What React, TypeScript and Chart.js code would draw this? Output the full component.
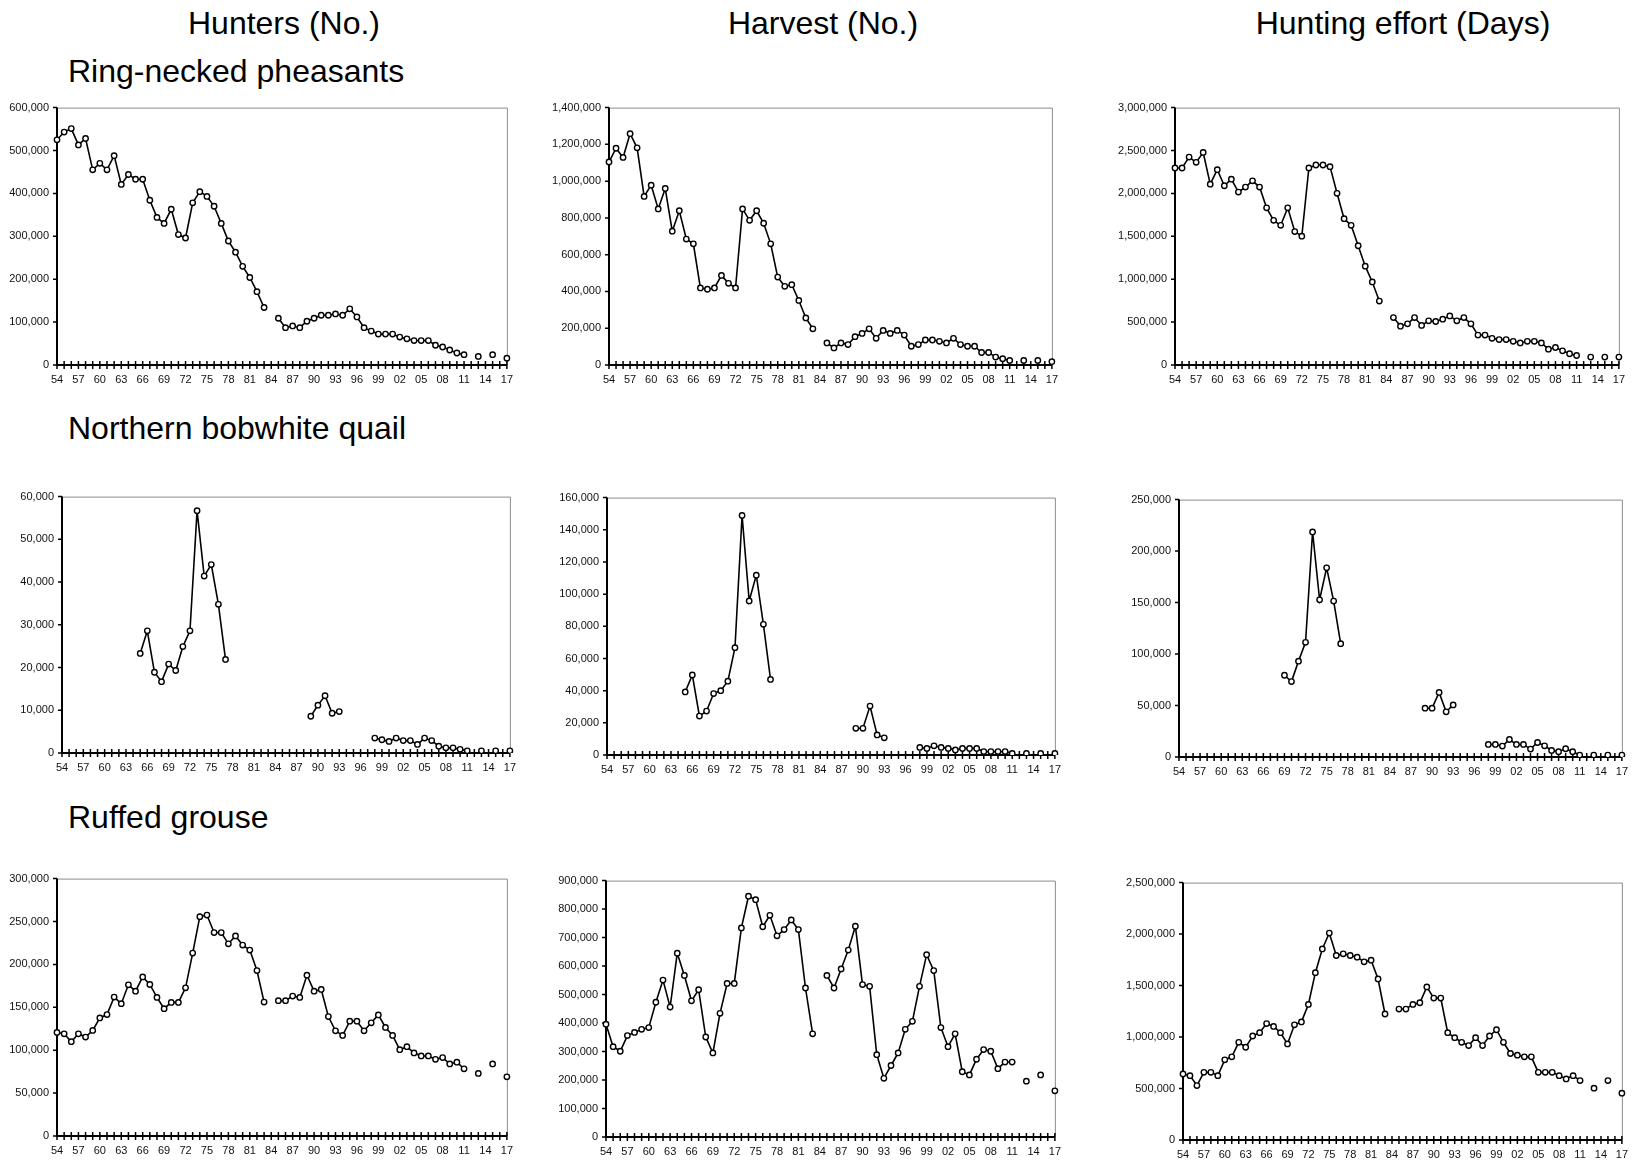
import React, { useEffect, useRef } from "react";
import { Chart, registerables } from "chart.js";

Chart.register(...registerables);

const YEAR_LABELS = [
  "54", "55", "56", "57", "58", "59", "60", "61", "62", "63",
  "64", "65", "66", "67", "68", "69", "70", "71", "72", "73",
  "74", "75", "76", "77", "78", "79", "80", "81", "82", "83",
  "84", "85", "86", "87", "88", "89", "90", "91", "92", "93",
  "94", "95", "96", "97", "98", "99", "00", "01", "02", "03",
  "04", "05", "06", "07", "08", "09", "10", "11", "12", "13",
  "14", "15", "16", "17",
];

const PHEASANT_HUNTERS = [
  525000, 543000, 551000, 513000, 528000, 455000, 470000, 455000, 488000, 421000,
  444000, 433000, 433000, 384000, 344000, 330000, 363000, 304000, 296000, 378000,
  404000, 393000, 370000, 330000, 289000, 263000, 230000, 204000, 171000, 134000,
  null,
  109000, 87000, 91000, 87000, 102000, 109000, 116000, 116000, 119000, 116000,
  131000, 112000, 87000, 79000, 72000, 72000, 72000, 65000, 61000, 57000,
  57000, 57000, 46000, 42000, 35000, 28000, 24000,
  null, 20000, null, 24000, null, 16000,
];

const PHEASANT_HARVEST = [
  1104000, 1179000, 1129000, 1258000, 1181000, 917000, 978000, 849000, 960000, 728000,
  839000, 685000, 659000, 419000, 412000, 419000, 487000, 444000, 419000, 849000,
  787000, 839000, 771000, 659000, 478000, 428000, 437000, 351000, 256000, 197000,
  null,
  120000, 93000, 120000, 111000, 154000, 172000, 197000, 145000, 188000, 172000,
  188000, 163000, 102000, 111000, 136000, 136000, 129000, 120000, 145000, 111000,
  102000, 102000, 68000, 68000, 43000, 34000, 25000,
  null, 25000, null, 25000, null, 18000,
];

const PHEASANT_EFFORT = [
  2296000, 2296000, 2423000, 2362000, 2477000, 2108000, 2277000, 2089000, 2166000, 2016000,
  2074000, 2147000, 2074000, 1832000, 1686000, 1628000, 1832000, 1555000, 1502000, 2296000,
  2331000, 2331000, 2312000, 2001000, 1705000, 1628000, 1390000, 1152000, 968000, 745000,
  null,
  553000, 453000, 480000, 553000, 461000, 515000, 507000, 534000, 572000, 515000,
  553000, 480000, 349000, 349000, 311000, 296000, 296000, 276000, 257000, 276000,
  276000, 257000, 184000, 204000, 165000, 131000, 111000,
  null, 92000, null, 92000, null, 92000,
];

const QUAIL_HUNTERS = [
  null, null, null, null, null, null, null, null, null, null, null,
  23300, 28600, 18900, 16700, 20800, 19300, 24900, 28600, 56700, 41400, 44100, 34800, 21900,
  null, null, null, null, null, null, null, null, null, null, null,
  8600, 11200, 13400, 9300, 9700,
  null, null, null, null,
  3500, 3100, 2700, 3500, 2900, 2900, 2000,
  3500, 2900, 1600, 1200, 1200, 850, 500,
  null, 500, null, 500, null, 500,
];

const QUAIL_HARVEST = [
  null, null, null, null, null, null, null, null, null, null, null,
  39200, 49800, 24200, 27300, 38200, 40000, 45900, 66700, 148900, 95800, 111800, 81200, 47000,
  null, null, null, null, null, null, null, null, null, null, null,
  16600, 16600, 30400, 12500, 10700,
  null, null, null, null,
  4700, 4100, 5700, 4700, 4100, 3100, 4100,
  4100, 4100, 2100, 2100, 2100, 2100, 1000,
  null, 1000, null, 1000, null, 1000,
];

const QUAIL_EFFORT = [
  null, null, null, null, null, null, null, null, null, null, null, null, null, null, null,
  79400, 73300, 93100, 111400, 218600, 152700, 183700, 151400, 110100,
  null, null, null, null, null, null, null, null, null, null, null,
  47400, 47400, 62700, 43900, 50600,
  null, null, null, null,
  12200, 12200, 10600, 17000, 12200, 12200, 7700,
  14100, 10900, 6400, 5100, 8000, 5100, 1900,
  null, 1900, null, 1900, null, 1900,
];

const GROUSE_HUNTERS = [
  120700, 119100, 109900, 119100, 115300, 123000, 137600, 141500, 161900, 154200,
  176200, 168800, 185400, 176600, 161500, 148400, 155700, 155700, 172700, 213200,
  255600, 257500, 237100, 237100, 224000, 233200, 222500, 216700, 192800, 156100,
  null,
  157700, 157700, 163100, 161500, 187400, 168800, 170800, 139200, 122600, 117200,
  133800, 133800, 122600, 131900, 141100, 126500, 117200, 100600, 104100, 96800,
  93300, 93300, 89400, 91400, 84000, 86000, 78300,
  null, 72900, null, 84000, null, 69000,
];

const GROUSE_HARVEST = [
  395800, 317000, 301000, 356000, 367000, 378000, 384000, 473000, 551000, 456000,
  645000, 567000, 478000, 517000, 351000, 295000, 434000, 539000, 539000, 734000,
  845000, 833000, 738000, 778000, 706000, 728000, 762000, 728000, 523000, 362000,
  null,
  567000, 523000, 590000, 656000, 740000, 535000, 529000, 289000, 206000, 251000,
  295000, 378000, 406000, 529000, 640000, 584000, 384000, 317000, 362000, 229000,
  218000, 273000, 307000, 301000, 240000, 263000, 263000,
  null, 196000, null, 218000, null, 162000,
];

const GROUSE_EFFORT = [
  641000, 625000, 529000, 657000, 657000, 625000, 779000, 808000, 949000, 901000,
  1010000, 1042000, 1131000, 1103000, 1042000, 933000, 1119000, 1147000, 1317000, 1625000,
  1856000, 2010000, 1792000, 1808000, 1792000, 1776000, 1731000, 1747000, 1564000, 1224000,
  null,
  1272000, 1272000, 1317000, 1333000, 1487000, 1378000, 1378000, 1042000, 994000, 949000,
  917000, 994000, 917000, 1010000, 1071000, 949000, 840000, 824000, 808000, 808000,
  657000, 657000, 657000, 625000, 593000, 625000, 577000,
  null, 503000, null, 577000, null, 455000,
];

const COLUMN_TITLES = ["Hunters (No.)", "Harvest (No.)", "Hunting effort (Days)"];
const ROW_TITLES = ["Ring-necked pheasants", "Northern bobwhite quail", "Ruffed grouse"];

const FONT = "Arial, 'Liberation Sans', sans-serif";
const PAD_L = 70;
const PAD_R = 14;
const PAD_T = 12;
const PAD_B = 28;

const PANELS = [
  { data: PHEASANT_HUNTERS, max: 600000, step: 100000, l: 57, t: 105, r: 507, b: 365 },
  { data: PHEASANT_HARVEST, max: 1400000, step: 200000, l: 609, t: 105, r: 1052, b: 365 },
  { data: PHEASANT_EFFORT, max: 3000000, step: 500000, l: 1175, t: 105, r: 1619, b: 365 },
  { data: QUAIL_HUNTERS, max: 60000, step: 10000, l: 62, t: 494, r: 510, b: 753 },
  { data: QUAIL_HARVEST, max: 160000, step: 20000, l: 607, t: 495, r: 1055, b: 755 },
  { data: QUAIL_EFFORT, max: 250000, step: 50000, l: 1179, t: 497, r: 1622, b: 757 },
  { data: GROUSE_HUNTERS, max: 300000, step: 50000, l: 57, t: 876, r: 507, b: 1136 },
  { data: GROUSE_HARVEST, max: 900000, step: 100000, l: 606, t: 878, r: 1055, b: 1137 },
  { data: GROUSE_EFFORT, max: 2500000, step: 500000, l: 1183, t: 880, r: 1622, b: 1140 },
];

const framePlugin = {
  id: "frame",
  beforeDatasetsDraw(chart: any) {
    const { ctx, chartArea } = chart;
    const { left, top, right, bottom } = chartArea;
    const xs = chart.scales.x;
    const ys = chart.scales.y;
    ctx.save();
    ctx.strokeStyle = "#8c8c8c";
    ctx.lineWidth = 1;
    ctx.beginPath();
    ctx.moveTo(left, top + 0.5);
    ctx.lineTo(right + 0.5, top + 0.5);
    ctx.lineTo(right + 0.5, bottom);
    ctx.stroke();
    ctx.strokeStyle = "#000";
    ctx.lineWidth = 2;
    ctx.beginPath();
    ctx.moveTo(left, top);
    ctx.lineTo(left, bottom);
    ctx.lineTo(right, bottom);
    ctx.stroke();
    ctx.lineWidth = 1.5;
    ctx.beginPath();
    const n = chart.data.labels.length;
    for (let i = 0; i < n; i++) {
      const px = xs.getPixelForValue(i);
      ctx.moveTo(px, bottom - 4);
      ctx.lineTo(px, bottom + 4);
    }
    ys.ticks.forEach((t: any) => {
      const py = ys.getPixelForValue(t.value);
      ctx.moveTo(left - 4, py);
      ctx.lineTo(left, py);
    });
    ctx.stroke();
    ctx.restore();
  },
};

function Panel({ cfg }: { cfg: any }) {
  const ref = useRef<HTMLCanvasElement>(null);
  const W = cfg.r - cfg.l + PAD_L + PAD_R;
  const H = cfg.b - cfg.t + PAD_T + PAD_B;
  useEffect(() => {
    if (!ref.current) return;
    const chart = new Chart(ref.current, {
      type: "line",
      data: {
        labels: YEAR_LABELS,
        datasets: [
          {
            data: cfg.data,
            borderColor: "#000",
            borderWidth: 1.6,
            pointRadius: 2.7,
            pointBorderWidth: 1.4,
            pointBackgroundColor: "#fff",
            pointBorderColor: "#000",
            spanGaps: false,
            tension: 0,
          },
        ],
      },
      options: {
        responsive: false,
        maintainAspectRatio: false,
        animation: false,
        devicePixelRatio: 1,
        layout: { padding: { top: PAD_T, right: PAD_R, left: 0, bottom: 0 } },
        plugins: { legend: { display: false }, tooltip: { enabled: false }, title: { display: false } },
        scales: {
          x: {
            type: "category",
            offset: false,
            grid: { display: false, drawTicks: false },
            border: { display: false },
            ticks: {
              autoSkip: false,
              maxRotation: 0,
              minRotation: 0,
              padding: 8,
              color: "#111",
              font: { family: FONT, size: 11 },
              callback: (_v: any, i: number) => (i % 3 === 0 ? YEAR_LABELS[i] : null),
            },
            afterFit: (s: any) => {
              s.height = PAD_B;
            },
          },
          y: {
            min: 0,
            max: cfg.max,
            grid: { display: false, drawTicks: false },
            border: { display: false },
            ticks: {
              stepSize: cfg.step,
              padding: 8,
              color: "#111",
              font: { family: FONT, size: 11 },
              callback: (v: any) => Number(v).toLocaleString("en-US"),
            },
            afterFit: (s: any) => {
              s.width = PAD_L;
            },
          },
        },
      },
      plugins: [framePlugin],
    } as any);
    return () => chart.destroy();
  }, []);
  return (
    <canvas
      ref={ref}
      width={W}
      height={H}
      style={{ position: "absolute", left: cfg.l - PAD_L, top: cfg.t - PAD_T, width: W, height: H }}
    />
  );
}

export default function App() {
  const colCenters = [284, 823, 1403];
  const rowTops = [55, 412, 801];
  return (
    <div
      style={{
        position: "absolute",
        left: 0,
        top: 0,
        width: 1637,
        height: 1160,
        overflow: "hidden",
        background: "#fff",
        fontFamily: FONT,
      }}
    >
      {COLUMN_TITLES.map((t, i) => (
        <div
          key={t}
          style={{
            position: "absolute",
            left: colCenters[i],
            top: 7,
            transform: "translateX(-50%)",
            fontSize: 32,
            lineHeight: "32px",
            whiteSpace: "nowrap",
            color: "#000",
          }}
        >
          {t}
        </div>
      ))}
      {ROW_TITLES.map((t, i) => (
        <div
          key={t}
          style={{
            position: "absolute",
            left: 68,
            top: rowTops[i],
            fontSize: 32,
            lineHeight: "32px",
            whiteSpace: "nowrap",
            color: "#000",
          }}
        >
          {t}
        </div>
      ))}
      {PANELS.map((p, i) => (
        <Panel key={i} cfg={p} />
      ))}
    </div>
  );
}
